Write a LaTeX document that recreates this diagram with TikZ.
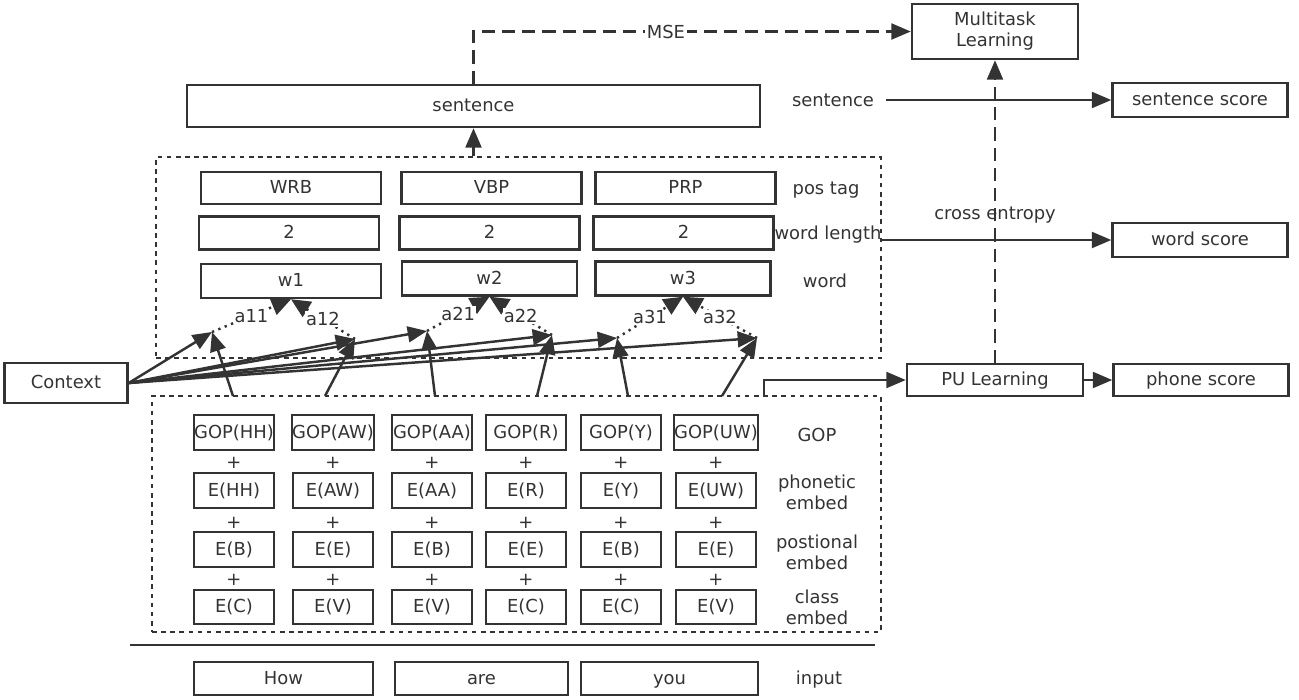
\documentclass[tikz,border=0pt]{standalone}
\usepackage{fontspec}
\setmainfont{DejaVu Sans}
\usepackage{xcolor}
\usepackage{tikz}
\usetikzlibrary{positioning, arrows.meta}
\definecolor{inkgray}{HTML}{333333}

\tikzset{
    blk/.style={draw=inkgray, line width=1.4pt, inner sep=0pt, text=inkgray},
    lbox/.style={blk, text height=1.6ex, text depth=0.4ex},
    cell/.style={lbox, minimum width=1.6cm, minimum height=0.69cm},
    tag/.style={text=inkgray, align=center, inner sep=1pt},
    arr/.style={draw=inkgray, line width=1.4pt, -{Triangle[length=11pt,width=9pt]}},
    frame/.style={draw=inkgray, line width=1.5pt, dash pattern=on 2.6pt off 2.6pt, inner sep=0pt},
    loss/.style={dash pattern=on 7.5pt off 4pt},
    attn/.style={draw=inkgray, line width=1.4pt, dash pattern=on 1.3pt off 2.6pt, -{Triangle[length=11pt,width=10pt]}}
}

\begin{document}
\begin{tikzpicture}[x=0.02cm, y=-0.02cm, font=\fontsize{10.2}{12}\selectfont]
    \useasboundingbox (0,0) rectangle (1299,700);

    % outputs on the right
    \node[blk, minimum width=3.32cm, minimum height=1.1cm, align=center] (multi) at (995,31.5) {Multitask\\Learning};
    \node[lbox, minimum width=3.5cm, minimum height=0.68cm] (sscore) at (1200,100) {sentence score};
    \node[lbox, minimum width=3.5cm, minimum height=0.68cm] (wscore) at (1200,240) {word score};
    \node[lbox, minimum width=3.5cm, minimum height=0.64cm] (pscore) at (1201,380) {phone score};
    \node[lbox, minimum width=3.52cm, minimum height=0.64cm] (pu) at (995,380) {PU Learning};
    \node[lbox, minimum width=2.46cm, minimum height=0.8cm] (context) at (66,383) {Context};

    \node[lbox, minimum width=11.46cm, minimum height=0.84cm] (sent) at (473.5,106) {sentence};
    \node[tag] (sentlbl) at (833,100) {sentence};
    \node[tag] (celbl) at (995,215) {cross entropy};

    % word level
    \node[frame, minimum width=14.5cm, minimum height=4.02cm] (wordgrp) at (518.5,257.5) {};
    \foreach \n/\x/\t in {1/291/WRB, 2/491.5/VBP, 3/685.5/PRP}
      \node[lbox, minimum width=3.6cm, minimum height=0.64cm] (pos\n) at (\x,188) {\t};
    \foreach \n/\x in {1/289, 2/489.5, 3/683.5}
      \node[lbox, minimum width=3.6cm, minimum height=0.66cm] (len\n) at (\x,233) {2};
    \node[lbox, minimum width=3.6cm, minimum height=0.68cm] (w1) at (291,281) {w1};
    \node[lbox, minimum width=3.5cm, minimum height=0.68cm] (w2) at (489.5,278.5) {w2};
    \node[lbox, minimum width=3.5cm, minimum height=0.68cm] (w3) at (683,278.5) {w3};
    \node[tag] (postag) at (826,190) {pos tag};
    \node[tag] (wlen) at (828,235) {word length};
    \node[tag] (wordlbl) at (825,281) {word};

    % phone level
    \node[frame, minimum width=14.58cm, minimum height=4.72cm] (phgrp) at (516.5,514) {};
    \foreach \n/\x/\ph/\ps/\cl in {1/234/HH/B/C, 2/333/AW/E/V, 3/432/AA/B/V, 4/526/R/E/C, 5/621/Y/B/C, 6/716/UW/E/V}{
      \node[cell] (gop\n) at (\x,432.5) {GOP(\ph)};
      \node[cell] (phe\n) at (\x,490.5) {E(\ph)};
      \node[cell] (pse\n) at (\x,549.5) {E(\ps)};
      \node[cell] (cle\n) at (\x,607) {E(\cl)};
      \node[tag] (plusa\n) at (\x,463) {+};
      \node[tag] (plusb\n) at (\x,523) {+};
      \node[tag] (plusc\n) at (\x,580) {+};
    }
    \node[tag] (goplbl) at (817,435) {GOP};
    \node[tag] (phelbl) at (817,492) {phonetic\\embed};
    \node[tag] (pselbl) at (817,552) {postional\\embed};
    \node[tag] (clelbl) at (817,607) {class\\embed};

    % input
    \draw[draw=inkgray, line width=1.4pt] (130,645) -- (875,645);
    \node[lbox, minimum width=3.58cm, minimum height=0.66cm] (how) at (283.5,678.5) {How};
    \node[lbox, minimum width=3.46cm, minimum height=0.66cm] (are) at (481.5,678.5) {are};
    \node[lbox, minimum width=3.54cm, minimum height=0.66cm] (you) at (669.5,678.5) {you};
    \node[tag] (inputlbl) at (819,680) {input};

    % attention
    \foreach \n/\x/\y in {11/212/332, 12/355/339, 21/427/331, 22/552/335, 31/617/338, 32/757/338}
      \coordinate (p\n) at (\x,\y);
    \foreach \n/\x in {1/233, 2/325, 3/435, 4/537, 5/628, 6/722}
      \coordinate (s\n) at (\x,396);
    \foreach \w in {1,2,3}{
      \draw[attn] (p\w1) -- node[tag, fill=white, inner sep=0.5pt] {a\w1} (w\w.south);
      \draw[attn] (p\w2) -- node[tag, fill=white, inner sep=0.5pt] {a\w2} (w\w.south);
    }
    \foreach \n/\p in {1/11, 2/12, 3/21, 4/22, 5/31, 6/32}{
      \draw[arr] (s\n) -- (p\p);
      \draw[arr] (context.east) -- (p\p);
    }

    % losses and scores
    \draw[arr] (sent.south |- wordgrp.north) -- (sent.south);
    \draw[arr, loss] (sent.north) |- node[pos=0.72, tag, fill=white] {MSE} (multi.west);
    \draw[arr, loss] (pu.north) -- (multi.south);
    \draw[arr] ([xshift=0.2cm]sentlbl.east) -- (sscore.west);
    \draw[arr] (wordgrp.east |- wscore.west) -- (wscore.west);
    \coordinate (putap) at (764,396);
    \draw[arr] (putap) |- (pu.west);
    \draw[arr] (pu) -- (pscore);
\end{tikzpicture}
\end{document}
